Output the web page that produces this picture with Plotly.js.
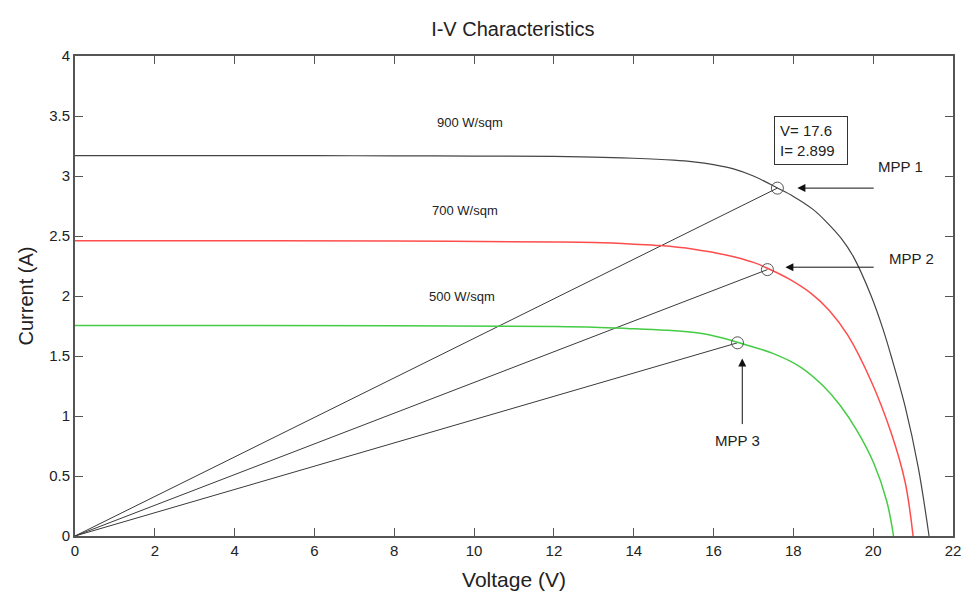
<!DOCTYPE html>
<html>
<head>
<meta charset="utf-8">
<script src="https://cdn.plot.ly/plotly-3.0.1.min.js"></script>
<style>html,body{margin:0;padding:0;background:#fff;}#chart{width:964px;height:603px;}</style>
</head>
<body>
<div id="chart"></div>
<script>
// 900 W/sqm curve
const v900 = [0, 2, 4, 6, 8, 10, 12, 13, 14, 15, 15.5, 16, 16.5, 17, 17.6, 18, 18.5, 18.85, 19.2, 19.5, 19.95, 20.25, 20.45, 20.8, 21.13, 21.4];
const i900 = [3.17, 3.17, 3.17, 3.169, 3.168, 3.166, 3.163, 3.158, 3.148, 3.132, 3.118, 3.095, 3.06, 3.0, 2.9, 2.83, 2.72, 2.61, 2.48, 2.33, 2.0, 1.72, 1.5, 1.08, 0.57, 0];
// 700 W/sqm curve
const v700 = [0, 4, 8, 12, 13, 14, 14.66, 15.5, 16.34, 17, 17.39, 17.9, 18.45, 18.9, 19.37, 19.95, 20.45, 20.8, 21.0];
const i700 = [2.46, 2.46, 2.458, 2.45, 2.445, 2.432, 2.42, 2.39, 2.34, 2.28, 2.225, 2.14, 2.02, 1.88, 1.67, 1.29, 0.86, 0.45, 0];
// 500 W/sqm curve
const v500 = [0, 4, 8, 12, 13, 13.83, 14.8, 15.66, 16.1, 16.64, 17.5, 18.17, 18.75, 19.17, 19.59, 20.01, 20.34, 20.51];
const i500 = [1.755, 1.755, 1.752, 1.745, 1.74, 1.73, 1.715, 1.69, 1.66, 1.61, 1.52, 1.41, 1.25, 1.09, 0.88, 0.61, 0.29, 0];
// maximum power points
const mppNames = ["MPP 1", "MPP 2", "MPP 3"];
const mppV = [17.6, 17.35, 16.6];
const mppI = [2.899, 2.22, 1.61];
const curveLabels = ["900 W/sqm", "700 W/sqm", "500 W/sqm"];
const xTicks = [0, 2, 4, 6, 8, 10, 12, 14, 16, 18, 20, 22];
const yTicks = [0, 0.5, 1, 1.5, 2, 2.5, 3, 3.5, 4];

const narrow = "Liberation Sans Narrow, Arial Narrow, Liberation Sans, sans-serif";
const traces = [];
// lines from origin to MPPs
for (let k = 0; k < mppV.length; k++) {
  traces.push({x: [0, mppV[k]], y: [0, mppI[k]], mode: 'lines', line: {color: '#3a3a3a', width: 1}, hoverinfo: 'skip'});
}
traces.push({x: v900, y: i900, mode: 'lines', line: {color: '#444444', width: 1.2, shape: 'spline', smoothing: 1.0}});
traces.push({x: v700, y: i700, mode: 'lines', line: {color: '#ff4d4d', width: 1.5, shape: 'spline', smoothing: 1.0}});
traces.push({x: v500, y: i500, mode: 'lines', line: {color: '#44cc44', width: 1.5, shape: 'spline', smoothing: 1.0}});
traces.push({x: mppV, y: mppI, mode: 'markers', marker: {symbol: 'circle-open', size: 12, color: '#555', line: {width: 1, color: '#555'}}});

const annotations = [
  {x: 9.9, y: 3.45, text: curveLabels[0], showarrow: false, font: {family: narrow, size: 13, color: '#222'}},
  {x: 9.77, y: 2.71, text: curveLabels[1], showarrow: false, font: {family: narrow, size: 13, color: '#222'}},
  {x: 9.7, y: 2.0, text: curveLabels[2], showarrow: false, font: {family: narrow, size: 13, color: '#222'}},
  // MPP labels
  {x: 20.68, y: 3.08, text: mppNames[0], showarrow: false, font: {family: narrow, size: 15, color: '#222'}},
  {x: 20.95, y: 2.31, text: mppNames[1], showarrow: false, font: {family: narrow, size: 15, color: '#222'}},
  {x: 16.6, y: 0.8, text: mppNames[2], showarrow: false, font: {family: narrow, size: 15, color: '#222'}},
  // arrows
  {x: 18.1, y: 2.899, ax: 20.05, ay: 2.899, axref: 'x', ayref: 'y', text: '', showarrow: true, arrowhead: 2, arrowsize: 1.6, arrowwidth: 1, arrowcolor: '#111'},
  {x: 17.8, y: 2.24, ax: 20.05, ay: 2.24, axref: 'x', ayref: 'y', text: '', showarrow: true, arrowhead: 2, arrowsize: 1.6, arrowwidth: 1, arrowcolor: '#111'},
  {x: 16.72, y: 1.48, ax: 16.72, ay: 0.92, axref: 'x', ayref: 'y', text: '', showarrow: true, arrowhead: 2, arrowsize: 1.6, arrowwidth: 1, arrowcolor: '#111'},
  // data tip box
  {x: 17.52, y: 3.296, xanchor: 'left', text: 'V= ' + mppV[0] + '<br>I= ' + mppI[0], align: 'left', showarrow: false,
   bordercolor: '#333', borderwidth: 1, borderpad: 5, bgcolor: '#fff', width: 62, font: {family: narrow, size: 15, color: '#222'}}
];

const axisCommon = {
  showline: true, linecolor: '#555', linewidth: 2, mirror: 'ticks', ticks: 'inside', ticklen: 8, tickcolor: '#555', tickwidth: 1,
  showgrid: false, zeroline: false, tickfont: {family: narrow, size: 15, color: '#222'}
};

const layout = {
  width: 964, height: 603,
  margin: {l: 75, r: 11, t: 56, b: 67},
  paper_bgcolor: '#fff', plot_bgcolor: '#fff',
  showlegend: false,
  title: {text: 'I-V Characteristics', x: 0.532, xanchor: 'center', y: 0.952, yanchor: 'middle', font: {family: narrow, size: 20, color: '#222'}},
  xaxis: Object.assign({}, axisCommon, {range: [0, 22], tickvals: xTicks, ticktext: xTicks.map(String),
    title: {text: 'Voltage (V)', standoff: 14, font: {family: narrow, size: 21, color: '#222'}}}),
  yaxis: Object.assign({}, axisCommon, {range: [0, 4], tickvals: yTicks, ticktext: yTicks.map(String),
    title: {text: 'Current (A)', standoff: 10, font: {family: 'Liberation Sans, Arial, sans-serif', size: 20, color: '#222'}}}),
  annotations: annotations
};

Plotly.newPlot('chart', traces, layout, {displayModeBar: false, staticPlot: true});
</script>
</body>
</html>
